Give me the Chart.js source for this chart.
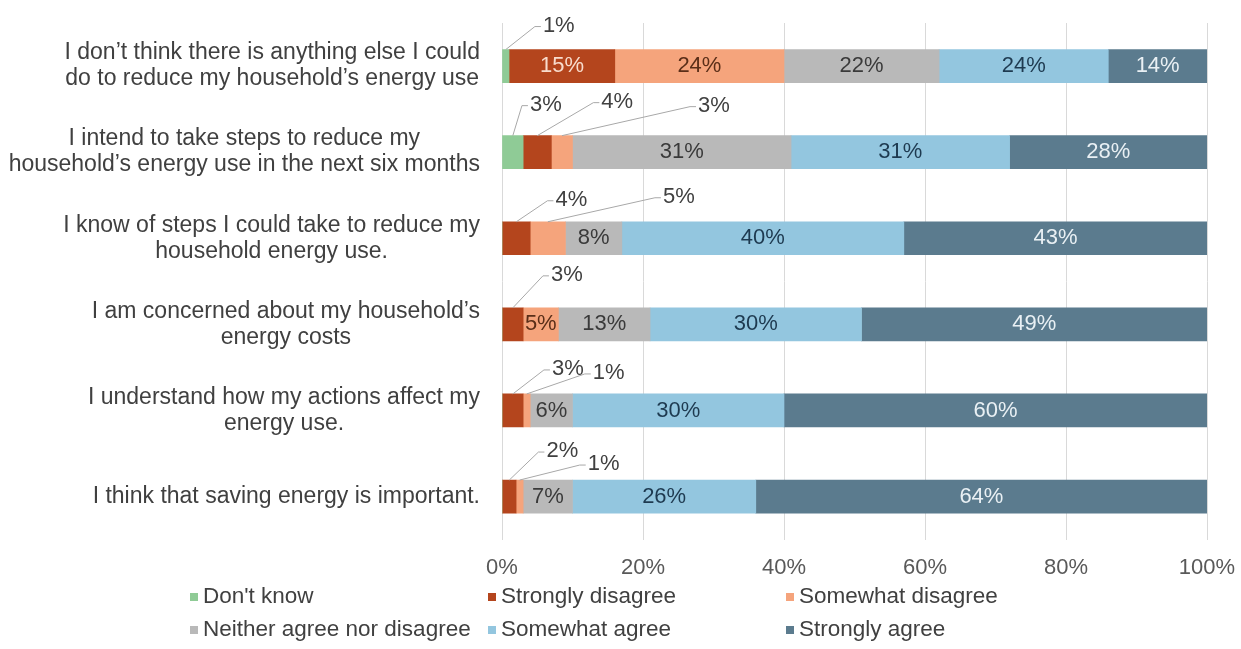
<!DOCTYPE html>
<html>
<head>
<meta charset="utf-8">
<script src="https://cdn.jsdelivr.net/npm/chart.js@4.4.0/dist/chart.umd.min.js"></script>
<style>
  html, body { margin: 0; padding: 0; background: #fff; }
</style>
</head>
<body>
<canvas id="attitudesChart" width="1241" height="649"></canvas>
<script>
// survey statements (one entry per bar, split into display lines)
const statements = [
  ["I don’t think there is anything else I could", "do to reduce my household’s energy use"],
  ["I intend to take steps to reduce my", "household’s energy use in the next six months"],
  ["I know of steps I could take to reduce my", "household energy use."],
  ["I am concerned about my household’s", "energy costs"],
  ["I understand how my actions affect my", "energy use."],
  ["I think that saving energy is important."]
];
const responses = ["Don't know", "Strongly disagree", "Somewhat disagree",
  "Neither agree nor disagree", "Somewhat agree", "Strongly agree"];

// share of respondents, %
const dontKnow         = [1, 3, 0, 0, 0, 0];
const stronglyDisagree = [15, 4, 4, 3, 3, 2];
const somewhatDisagree = [24, 3, 5, 5, 1, 1];
const neitherNor       = [22, 31, 8, 13, 6, 7];
const somewhatAgree    = [24, 31, 40, 30, 30, 26];
const stronglyAgree    = [14, 28, 43, 49, 60, 64];

const xTicks = [0, 20, 40, 60, 80, 100];

const fills = ['#8fcb96', '#b4451d', '#f5a47c', '#b9b9b9', '#93c6df', '#5b7b8e'];
const labelInk = ['#404040', '#f8dccd', '#5a2e18', '#3a3a3a', '#1e3a50', '#e9f0f4'];

// small shares get a label pulled out above the bar: "dataset-row" -> [dx, dy]
const callouts = {
  '0-0': [53, -24],
  '0-1': [33, -31], '1-1': [80, -34], '2-1': [152, -30],
  '1-2': [55, -22], '2-2': [131, -25],
  '1-3': [54, -33],
  '1-4': [55, -25], '2-4': [82, -21],
  '1-5': [53, -29], '2-5': [84, -16]
};

const FONT = '"Liberation Sans", Arial, sans-serif';
Chart.defaults.font.family = FONT;
Chart.defaults.font.size = 22;

const annotate = {
  id: 'annotate',
  afterDraw(chart) {
    const ctx = chart.ctx;
    const area = chart.chartArea;
    const y = chart.scales.y;
    ctx.save();
    ctx.textBaseline = 'middle';

    // category labels, lines centred on each other, block right-aligned
    ctx.font = '23px ' + FONT;
    ctx.fillStyle = '#404040';
    ctx.textAlign = 'center';
    statements.forEach((lines, i) => {
      const yc = y.getPixelForValue(i);
      const w = Math.max(...lines.map(l => ctx.measureText(l).width));
      const cx = area.left - 22 - w / 2;
      lines.forEach((l, k) => ctx.fillText(l, cx, yc + (k - (lines.length - 1) / 2) * 26));
    });

    // value labels
    ctx.font = '22px ' + FONT;
    chart.data.datasets.forEach((ds, di) => {
      chart.getDatasetMeta(di).data.forEach((bar, i) => {
        const v = ds.data[i];
        if (!v) return;
        const p = bar.getProps(['x', 'y', 'base', 'height'], true);
        const segX = (p.x + p.base) / 2;
        const text = v + '%';
        const off = callouts[di + '-' + i];
        if (off) {
          const top = p.y - p.height / 2;
          const lx = segX + off[0];
          const ly = top + off[1];
          const left = lx - ctx.measureText(text).width / 2;
          ctx.strokeStyle = '#a8a8a8';
          ctx.lineWidth = 1;
          ctx.beginPath();
          ctx.moveTo(segX, top);
          ctx.lineTo(left - 8, ly + 1);
          ctx.lineTo(left - 2, ly + 1);
          ctx.stroke();
          ctx.fillStyle = '#404040';
          ctx.fillText(text, lx, ly);
        } else {
          ctx.fillStyle = labelInk[di];
          ctx.fillText(text, segX, p.y);
        }
      });
    });

    // legend, three columns by two rows
    ctx.font = '22.5px ' + FONT;
    ctx.textAlign = 'left';
    const colX = [190, 488, 786];
    const rowY = [597, 630];
    chart.data.datasets.forEach((ds, di) => {
      const x = colX[di % 3];
      const yy = rowY[Math.floor(di / 3)];
      ctx.fillStyle = ds.backgroundColor;
      ctx.fillRect(x, yy - 4, 8, 8);
      ctx.fillStyle = '#404040';
      ctx.fillText(ds.label, x + 13, yy);
    });
    ctx.restore();
  }
};

const seriesValues = [dontKnow, stronglyDisagree, somewhatDisagree, neitherNor, somewhatAgree, stronglyAgree];

new Chart(document.getElementById('attitudesChart').getContext('2d'), {
  type: 'bar',
  data: {
    labels: statements,
    datasets: responses.map((name, k) => ({
      label: name,
      data: seriesValues[k],
      backgroundColor: fills[k],
      borderWidth: 0,
      barThickness: 33
    }))
  },
  options: {
    indexAxis: 'y',
    responsive: false,
    animation: false,
    layout: { padding: { top: 23, right: 34, bottom: 53, left: 0 } },
    plugins: {
      legend: { display: false },
      tooltip: { enabled: false }
    },
    scales: {
      x: {
        stacked: true,
        min: 0,
        max: 100,
        afterBuildTicks: s => { s.ticks = xTicks.map(v => ({ value: v })); },
        // the "100%" label may hang into the right margin
        afterFit: s => { s.paddingRight = 0; s.paddingLeft = 0; },
        grid: { color: '#d9d9d9', drawTicks: false },
        border: { display: false },
        ticks: { color: '#595959', padding: 15, callback: v => v + '%' }
      },
      y: {
        stacked: true,
        grid: { display: false },
        border: { display: false },
        ticks: { display: false },
        afterFit: s => { s.width = 502; }
      }
    }
  },
  plugins: [annotate]
});
</script>
</body>
</html>
